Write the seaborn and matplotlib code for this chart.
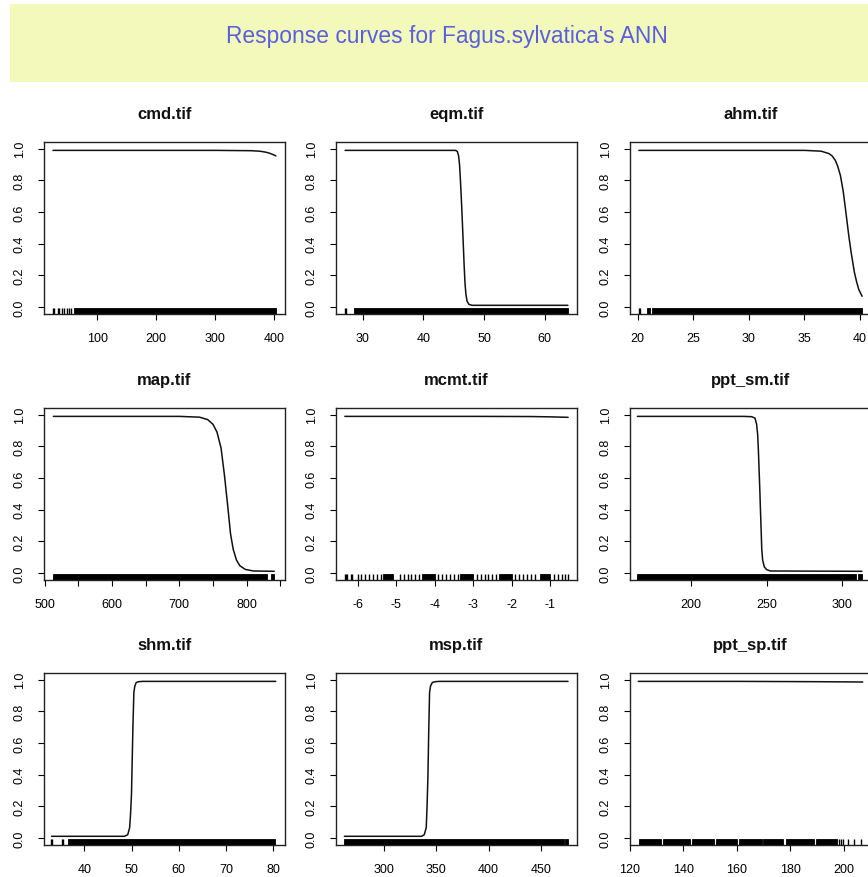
import numpy as np
import pandas as pd
import matplotlib
matplotlib.use("Agg")
import matplotlib.pyplot as plt
from matplotlib.patches import Rectangle
import seaborn as sns

sns.set_theme(style="white")
plt.rcParams['font.family'] = ['Liberation Sans', 'DejaVu Sans']

TITLE = "Response curves for Fagus.sylvatica's ANN"
panel_names = ["cmd.tif", "eqm.tif", "ahm.tif",
               "map.tif", "mcmt.tif", "ppt_sm.tif",
               "shm.tif", "msp.tif", "ppt_sp.tif"]

# ---- response curves ----
cmd_x = [25, 300, 360, 375, 385, 392, 398, 402.5]
cmd_y = [0.99, 0.99, 0.988, 0.985, 0.979, 0.972, 0.963, 0.955]

eqm_x = [27.1, 45.3, 45.6, 45.8, 45.95, 46.1, 46.3, 46.5, 46.7, 46.85, 47.0, 47.2, 47.5, 48.0, 63.8]
eqm_y = [0.99, 0.99, 0.982, 0.955, 0.9, 0.8, 0.64, 0.46, 0.27, 0.15, 0.08, 0.035, 0.016, 0.01, 0.01]

ahm_x = [20.1, 35, 36.5, 37.2, 37.5, 37.8, 38.0, 38.25, 38.5, 38.7, 39.0, 39.2, 39.5, 39.7, 39.9, 40.2]
ahm_y = [0.99, 0.99, 0.985, 0.97, 0.955, 0.925, 0.89, 0.83, 0.73, 0.62, 0.45, 0.35, 0.22, 0.16, 0.11, 0.067]

map_x = [513, 700, 730, 742, 750, 756, 762, 767, 772, 776, 780, 785, 790, 798, 810, 841]
map_y = [0.99, 0.99, 0.985, 0.97, 0.94, 0.89, 0.79, 0.62, 0.42, 0.25, 0.15, 0.08, 0.045, 0.022, 0.012, 0.01]

mcmt_x = [-6.33, -3.0, -1.5, -1.0, -0.53]
mcmt_y = [0.99, 0.99, 0.989, 0.987, 0.984]

ppt_sm_x = [164.4, 235, 240, 242.2, 243.3, 244.0, 244.5, 244.9, 245.4, 245.8, 246.3, 246.7, 247.3, 248.4, 250, 252.5, 313]
ppt_sm_y = [0.99, 0.99, 0.988, 0.979, 0.94, 0.873, 0.77, 0.66, 0.53, 0.41, 0.27, 0.15, 0.08, 0.038, 0.02, 0.012, 0.01]

shm_x = [33.1, 48.5, 49.2, 49.6, 49.8, 50.0, 50.15, 50.3, 50.5, 50.7, 51.0, 51.5, 52.4, 80.5]
shm_y = [0.01, 0.01, 0.02, 0.064, 0.15, 0.28, 0.5, 0.705, 0.92, 0.96, 0.983, 0.988, 0.99, 0.99]

msp_x = [262.1, 336, 338.5, 340.4, 341.2, 342, 342.8, 343.6, 344.5, 346.2, 349, 353, 476]
msp_y = [0.01, 0.01, 0.02, 0.064, 0.2, 0.385, 0.68, 0.92, 0.96, 0.983, 0.988, 0.99, 0.99]

ppt_sp_x = [123.1, 160, 190, 207.2]
ppt_sp_y = [0.99, 0.99, 0.988, 0.986]

# ---- rug: dense bands (start, end) and single ticks ----
cmd_rug_bands = [(60, 402.8)]
cmd_rug_ticks = [24.5, 27, 33, 36, 41, 44, 48, 52, 55]
eqm_rug_bands = [(28.6, 63.8)]
eqm_rug_ticks = [27.1, 27.3]
ahm_rug_bands = [(20.8, 21.1), (21.3, 40.2)]
ahm_rug_ticks = [20.1, 20.2]
map_rug_bands = [(513, 831), (836, 841)]
map_rug_ticks = []
mcmt_rug_bands = [(-5.33, -5.08), (-4.33, -4.0), (-3.33, -3.0), (-2.33, -2.0), (-1.27, -1.0)]
mcmt_rug_ticks = [-6.32, -6.3, -6.28, -6.17, -6.15,
                  -6.0, -5.9, -5.8, -5.7, -5.6, -5.5, -5.4,
                  -4.9, -4.8, -4.7, -4.6, -4.5, -4.4,
                  -3.9, -3.8, -3.7, -3.6, -3.5, -3.4,
                  -2.9, -2.8, -2.7, -2.6, -2.5, -2.4,
                  -1.9, -1.8, -1.7, -1.6, -1.5, -1.4,
                  -0.9, -0.8, -0.7, -0.6, -0.53]
ppt_sm_rug_bands = [(164.4, 308.9), (310.7, 313)]
ppt_sm_rug_ticks = []
shm_rug_bands = [(36.5, 80.4)]
shm_rug_ticks = [33.0, 33.2, 35.3, 35.5]
msp_rug_bands = [(262, 472), (473.5, 476.4)]
msp_rug_ticks = []
ppt_sp_rug_bands = [(123.5, 131.5), (132.3, 142.5), (143.3, 151.5), (152.3, 160.2), (161.0, 169.3),
                    (170.0, 177.5), (178.3, 189.0), (189.7, 197.5)]
ppt_sp_rug_ticks = [198.3, 199.0, 199.8, 201.5, 204.0, 206.5]

curves = [(cmd_x, cmd_y), (eqm_x, eqm_y), (ahm_x, ahm_y),
          (map_x, map_y), (mcmt_x, mcmt_y), (ppt_sm_x, ppt_sm_y),
          (shm_x, shm_y), (msp_x, msp_y), (ppt_sp_x, ppt_sp_y)]
rugs = [(cmd_rug_bands, cmd_rug_ticks), (eqm_rug_bands, eqm_rug_ticks), (ahm_rug_bands, ahm_rug_ticks),
        (map_rug_bands, map_rug_ticks), (mcmt_rug_bands, mcmt_rug_ticks), (ppt_sm_rug_bands, ppt_sm_rug_ticks),
        (shm_rug_bands, shm_rug_ticks), (msp_rug_bands, msp_rug_ticks), (ppt_sp_rug_bands, ppt_sp_rug_ticks)]

xlims = [(9.8, 418), (25.6, 65.3), (19.3, 41.0),
         (499, 857), (-6.56, -0.30), (159.5, 319),
         (31.5, 82.45), (254.1, 484.6), (120, 210.3)]
xticks = [[100, 200, 300, 400], [30, 40, 50, 60], [20, 25, 30, 35, 40],
          [500, 550, 600, 650, 700, 750, 800, 850], [-6, -5, -4, -3, -2, -1], [200, 250, 300],
          [40, 50, 60, 70, 80], [300, 350, 400, 450], [120, 140, 160, 180, 200]]
xticklabels = [["100", "200", "300", "400"], ["30", "40", "50", "60"], ["20", "25", "30", "35", "40"],
               ["500", "", "600", "", "700", "", "800", ""], ["-6", "-5", "-4", "-3", "-2", "-1"],
               ["200", "250", "300"],
               ["40", "50", "60", "70", "80"], ["300", "350", "400", "450"], ["120", "140", "160", "180", "200"]]
yticks = [0.0, 0.2, 0.4, 0.6, 0.8, 1.0]
yticklabels = ["0.0", "0.2", "0.4", "0.6", "0.8", "1.0"]

W, H = 868, 878
fig = plt.figure(figsize=(W / 100, H / 100), dpi=100)
fig.patch.set_facecolor('white')

# title banner
fig.add_artist(Rectangle((10 / W, 1 - 83 / H), 1.0, 78 / H, transform=fig.transFigure,
                         facecolor='#F3F9BA', edgecolor='none', zorder=0))
fig.text(447 / W, 1 - 36 / H, TITLE, color='#5A5FE0', fontsize=16.4,
         ha='center', va='center')

col_left = [44, 336, 630]
row_top = [143, 409, 674]
bw, bh = 241, 172

for i, name in enumerate(panel_names):
    r, c = divmod(i, 3)
    l, t = col_left[c], row_top[r]
    ax = fig.add_axes([l / W, 1 - (t + bh) / H, bw / W, bh / H])
    ax.set_facecolor('white')
    xs, ys = curves[i]
    df = pd.DataFrame({'x': xs, 'y': ys})
    sns.lineplot(data=df, x='x', y='y', ax=ax, color='#111111', linewidth=1.1,
                 estimator=None, sort=True)
    bands, ticks = rugs[i]
    for a, b in bands:
        ax.axvspan(a, b, ymin=0, ymax=0.035, facecolor='black', edgecolor='black', lw=0.6)
    if ticks:
        sns.rugplot(x=ticks, ax=ax, height=0.035, color='black', lw=1.0, expand_margins=False)
    ax.set_xlim(*xlims[i])
    ax.set_ylim(-0.045, 1.043)
    ax.set_xticks(xticks[i])
    ax.set_xticklabels(xticklabels[i])
    ax.set_yticks(yticks)
    ax.set_yticklabels(yticklabels, rotation=90, va='center')
    ax.set_xlabel('')
    ax.set_ylabel('')
    ax.tick_params(axis='both', direction='out', length=4.2, width=0.8, color='black',
                   labelsize=9, labelcolor='black', bottom=True, left=True, pad=9)
    for sp in ax.spines.values():
        sp.set_visible(True)
        sp.set_color('#222222')
        sp.set_linewidth(1.0)
    ax.set_title(name, fontsize=12, fontweight='bold', pad=17, color='#111111')

fig.savefig('out.png', dpi=100)
